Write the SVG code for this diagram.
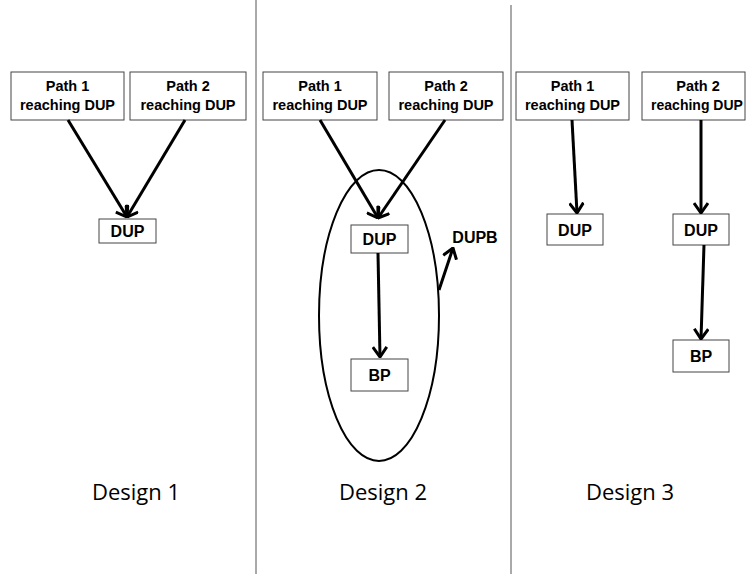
<svg xmlns="http://www.w3.org/2000/svg" width="746" height="574" viewBox="0 0 746 574">
<style>
.box{fill:#fff;stroke:#444;stroke-width:1}
.t{font-family:"Liberation Sans",Arial,sans-serif;font-weight:bold;font-size:14.5px;fill:#000;text-anchor:middle}
.t2{font-family:"Liberation Sans",Arial,sans-serif;font-weight:bold;font-size:16px;fill:#000;text-anchor:middle}
.d{font-family:"Open Sans","Liberation Sans",sans-serif;font-size:22px;fill:#000;text-anchor:middle}
.c{stroke:#000;stroke-width:3;fill:none}
.div{stroke:#555;stroke-width:1}
</style>
<defs>
<marker id="ah" viewBox="0 0 12 16" markerUnits="userSpaceOnUse" markerWidth="12" markerHeight="16" refX="11" refY="8" orient="auto">
<path d="M1,1 L11,8 L1,15" fill="none" stroke="#000" stroke-width="3"/>
</marker>
</defs>
<rect width="746" height="574" fill="#fff"/>
<g id="dividers">
<line class="div" x1="256" y1="0" x2="256" y2="574"/>
<line class="div" x1="511" y1="5" x2="511" y2="574"/>
</g>
<g id="d1p1"><rect class="box" x="11" y="72" width="113" height="48"/><text class="t" x="67.5" y="91">Path 1</text><text class="t" x="67.5" y="110">reaching DUP</text></g>
<g id="d1p2"><rect class="box" x="130" y="72" width="116" height="48"/><text class="t" x="188" y="91">Path 2</text><text class="t" x="188" y="110">reaching DUP</text></g>
<g id="d1dup"><rect class="box" x="99" y="219" width="57" height="24"/><text class="t2" x="127.5" y="237">DUP</text></g>
<g id="d2p1"><rect class="box" x="263" y="72" width="114" height="48"/><text class="t" x="320" y="91">Path 1</text><text class="t" x="320" y="110">reaching DUP</text></g>
<g id="d2p2"><rect class="box" x="389" y="72" width="114" height="48"/><text class="t" x="446" y="91">Path 2</text><text class="t" x="446" y="110">reaching DUP</text></g>
<g id="d2dup"><rect class="box" x="351" y="225" width="57" height="28"/><text class="t2" x="379.5" y="245">DUP</text></g>
<g id="d2bp"><rect class="box" x="351" y="359" width="57" height="32"/><text class="t2" x="379.5" y="381">BP</text></g>
<g id="dupb"><ellipse cx="379" cy="315.5" rx="60" ry="145.5" fill="none" stroke="#000" stroke-width="2"/><text class="t2" x="475" y="243">DUPB</text></g>
<g id="d3p1"><rect class="box" x="516" y="72" width="113" height="48"/><text class="t" x="572.5" y="91">Path 1</text><text class="t" x="572.5" y="110">reaching DUP</text></g>
<g id="d3p2"><rect class="box" x="642" y="72" width="103" height="48"/><text class="t" x="698" y="91">Path 2</text><text class="t" x="697" y="110" style="font-size:14px">reaching DUP</text></g>
<g id="d3dup1"><rect class="box" x="547" y="214" width="56" height="31"/><text class="t2" x="575" y="236">DUP</text></g>
<g id="d3dup2"><rect class="box" x="673" y="214" width="56" height="31"/><text class="t2" x="701" y="236">DUP</text></g>
<g id="d3bp"><rect class="box" x="673" y="340" width="56" height="32"/><text class="t2" x="701" y="362">BP</text></g>
<g id="connectors">
<line class="c" x1="68" y1="120" x2="127" y2="217" marker-end="url(#ah)"/>
<line class="c" x1="185" y1="120" x2="127" y2="217" marker-end="url(#ah)"/>
<line class="c" x1="320" y1="120" x2="378" y2="218" marker-end="url(#ah)"/>
<line class="c" x1="445" y1="120" x2="378" y2="218" marker-end="url(#ah)"/>
<line class="c" x1="378" y1="253" x2="380" y2="357" marker-end="url(#ah)"/>
<line class="c" x1="439" y1="290" x2="453" y2="248" marker-end="url(#ah)"/>
<line class="c" x1="572" y1="120" x2="577" y2="213" marker-end="url(#ah)"/>
<line class="c" x1="701" y1="120" x2="701" y2="213" marker-end="url(#ah)"/>
<line class="c" x1="704" y1="245" x2="701" y2="339" marker-end="url(#ah)"/>
</g>
<g id="labels">
<text class="d" x="136" y="500">Design 1</text>
<text class="d" x="383" y="500">Design 2</text>
<text class="d" x="630" y="500">Design 3</text>
</g>
</svg>
